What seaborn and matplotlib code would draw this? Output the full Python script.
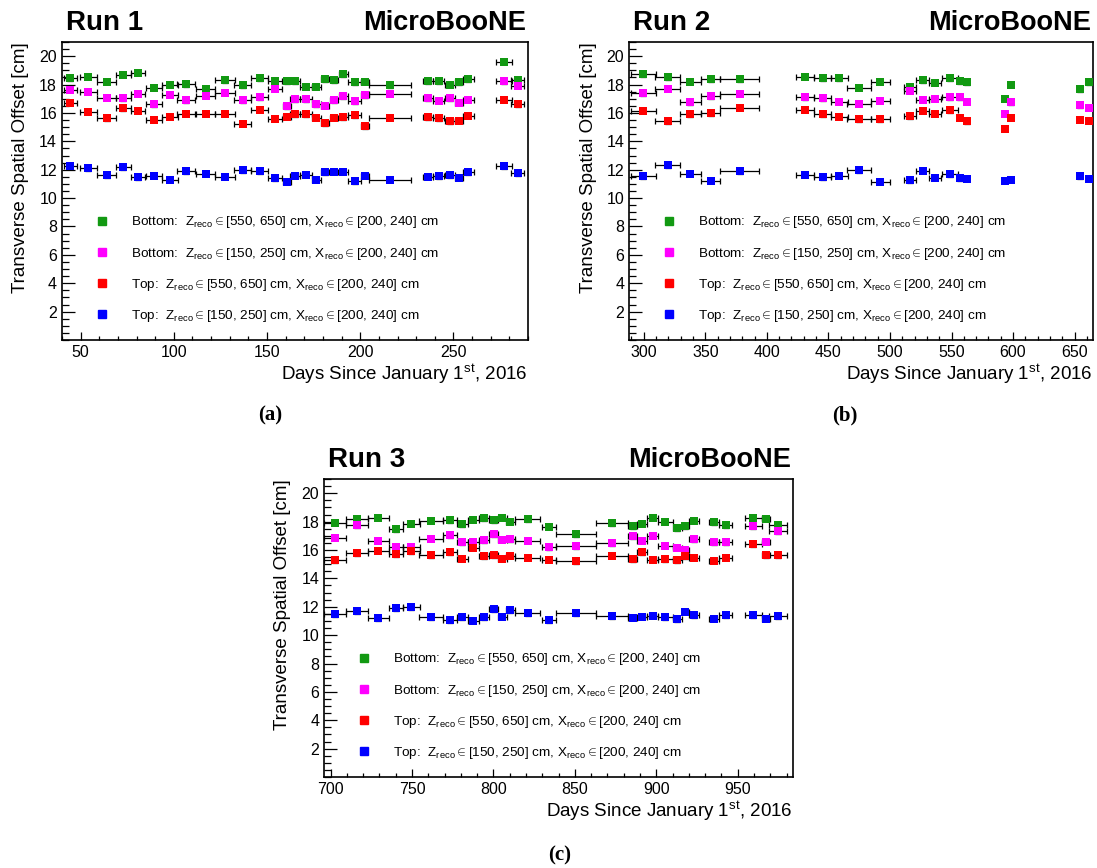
import matplotlib
matplotlib.use("Agg")
import matplotlib.pyplot as plt
from matplotlib.lines import Line2D
from matplotlib.ticker import MultipleLocator
import seaborn as sns

# ---- Run 1 ----
days_run1 = [44.5, 54, 64, 73, 81, 89.5, 98, 106.5, 117, 127.5, 137, 146, 154.5,
             160.5, 165, 171, 176.5, 181, 186, 191, 197, 202.5, 216, 236.5, 242,
             248, 253, 258, 277, 284.5]
xerr_run1 = [3.6, 4.6, 5.0, 3.9, 3.8, 4.3, 4.5, 4.8, 5.3, 5.2, 4.5, 4.5, 3.8,
             2.1, 2.5, 3.1, 2.5, 2.3, 2.3, 2.5, 3.6, 2.3, 11.2, 2.7, 2.7,
             2.7, 2.4, 2.8, 4.3, 3.6]
bot_far_run1 = [18.43, 18.54, 18.19, 18.69, 18.85, 17.79, 17.98, 18.03, 17.68, 18.29,
                17.96, 18.45, 18.22, 18.22, 18.24, 17.84, 17.84, 18.36, 18.31, 18.73,
                18.17, 18.19, 17.96, 18.24, 18.24, 18.0, 18.17, 18.36, 19.62, 18.29]
bot_near_run1 = [17.63, 17.49, 17.07, 17.02, 17.37, 16.60, 17.30, 16.90, 17.23, 17.42,
                 16.88, 17.09, 17.70, 16.48, 16.97, 16.97, 16.60, 16.50, 16.88, 17.18,
                 16.83, 17.25, 17.35, 17.04, 16.85, 17.02, 16.71, 16.92, 18.22, 17.93]
top_far_run1 = [16.71, 16.08, 15.63, 16.34, 16.15, 15.52, 15.75, 15.94, 15.96, 15.94,
                15.23, 16.24, 15.59, 15.75, 15.92, 15.92, 15.68, 15.28, 15.66, 15.70,
                15.85, 15.05, 15.68, 15.70, 15.63, 15.40, 15.45, 15.82, 16.92, 16.62]
top_near_run1 = [12.28, 12.09, 11.60, 12.16, 11.46, 11.57, 11.29, 11.90, 11.71, 11.50,
                 11.95, 11.90, 11.41, 11.15, 11.57, 11.64, 11.29, 11.83, 11.85, 11.85,
                 11.17, 11.57, 11.29, 11.50, 11.55, 11.62, 11.43, 11.81, 12.25, 11.76]

# ---- Run 2 ----
days_run2 = [299.5, 319.3, 337.9, 354.2, 378.0, 431.2, 445.2, 458.8, 474.5, 492.1,
             516.2, 526.7, 536.8, 548.4, 557.1, 562.2, 593.4, 598.5, 654.6, 661.6]
xerr_run2 = [10.2, 9.9, 8.7, 8.1, 16.0, 7.3, 7.0, 6.8, 9.8, 7.9,
             4.9, 5.4, 5.0, 6.5, 1.5, 1.5, 0.5, 0.5, 1.5, 1.5]
bot_far_run2 = [18.73, 18.52, 18.19, 18.36, 18.38, 18.54, 18.43, 18.45, 17.79, 18.19,
                17.84, 18.29, 18.12, 18.43, 18.22, 18.15, 17.00, 18.00, 17.68, 18.17]
bot_near_run2 = [17.39, 17.70, 16.76, 17.16, 17.37, 17.11, 17.04, 16.78, 16.64, 16.85,
                 17.56, 16.92, 17.00, 17.09, 17.09, 16.78, 15.94, 16.74, 16.53, 16.38]
top_far_run2 = [16.17, 15.42, 15.92, 15.99, 16.36, 16.22, 15.92, 15.73, 15.56, 15.54,
                15.77, 16.17, 15.96, 16.20, 15.68, 15.42, 14.88, 15.66, 15.52, 15.45]
top_near_run2 = [11.53, 12.32, 11.71, 11.22, 11.90, 11.64, 11.46, 11.57, 11.97, 11.15,
                 11.27, 11.92, 11.43, 11.69, 11.41, 11.36, 11.24, 11.29, 11.53, 11.36]

# ---- Run 3 ----
days_run3 = [702.9, 716.2, 729.3, 740.1, 749.6, 761.6, 773.3, 780.9, 787.6, 794.2,
             800.1, 805.5, 810.4, 821.0, 833.9, 850.9, 872.8, 885.5, 891.5, 897.8,
             905.6, 913.0, 917.9, 923.2, 935.5, 942.8, 959.6, 967.4, 975.0]
xerr_run3 = [6.7, 6.7, 6.3, 4.1, 5.1, 7.2, 4.4, 3.3, 3.3, 3.1,
             2.9, 2.6, 2.8, 7.8, 4.3, 12.3, 9.8, 2.7, 3.1, 3.4,
             4.6, 2.6, 2.0, 3.0, 3.3, 4.0, 5.3, 2.3, 5.5]
bot_far_run3 = [17.93, 18.19, 18.28, 17.48, 17.84, 18.07, 18.09, 17.81, 18.14, 18.24,
                18.09, 18.28, 17.98, 18.16, 17.65, 17.13, 17.88, 17.69, 17.86, 18.28,
                18.00, 17.53, 17.67, 18.05, 17.95, 17.74, 18.28, 18.19, 17.79]
bot_near_run3 = [16.87, 17.74, 16.64, 16.21, 16.21, 16.78, 17.06, 16.56, 16.56, 16.68,
                 17.13, 16.73, 16.75, 16.64, 16.19, 16.26, 16.47, 16.99, 16.66, 17.01,
                 16.31, 16.16, 16.02, 16.75, 16.56, 16.56, 17.69, 16.59, 17.34]
top_far_run3 = [15.29, 15.76, 15.95, 15.72, 15.91, 15.62, 15.84, 15.39, 16.16, 15.58,
                15.65, 15.39, 15.60, 15.46, 15.32, 15.20, 15.60, 15.34, 15.86, 15.32,
                15.34, 15.29, 15.58, 15.44, 15.25, 15.44, 16.42, 15.62, 15.62]
top_near_run3 = [11.48, 11.69, 11.18, 11.91, 11.95, 11.25, 11.06, 11.25, 11.01, 11.27,
                 11.81, 11.29, 11.76, 11.53, 11.06, 11.53, 11.32, 11.22, 11.29, 11.36,
                 11.25, 11.11, 11.65, 11.41, 11.15, 11.39, 11.39, 11.15, 11.34]

YERR = 0.18

labels = [
    r"Bottom:  Z$_\mathrm{reco}\in$[550, 650] cm, X$_\mathrm{reco}\in$[200, 240] cm",
    r"Bottom:  Z$_\mathrm{reco}\in$[150, 250] cm, X$_\mathrm{reco}\in$[200, 240] cm",
    r"Top:  Z$_\mathrm{reco}\in$[550, 650] cm, X$_\mathrm{reco}\in$[200, 240] cm",
    r"Top:  Z$_\mathrm{reco}\in$[150, 250] cm, X$_\mathrm{reco}\in$[200, 240] cm",
]
colors = ["#129912", "#ff00ff", "#ff0000", "#0000ff"]

sns.set_style("ticks")
plt.rcParams["font.family"] = ["Liberation Sans", "DejaVu Sans"]
plt.rcParams["mathtext.fontset"] = "custom"
plt.rcParams["mathtext.rm"] = "Liberation Sans"
plt.rcParams["mathtext.it"] = "Liberation Sans:italic"
plt.rcParams["mathtext.bf"] = "Liberation Sans:bold"
for key in ["text.color", "axes.labelcolor", "xtick.color", "ytick.color", "axes.edgecolor"]:
    plt.rcParams[key] = "black"

fig = plt.figure(figsize=(10.97, 8.68), dpi=100)

panels = [
    ("Run 1", "(a)", [0.0565, 0.6083, 0.4248, 0.3433], (40, 290), range(50, 251, 50),
     days_run1, xerr_run1, [bot_far_run1, bot_near_run1, top_far_run1, top_near_run1]),
    ("Run 2", "(b)", [0.5734, 0.6083, 0.4230, 0.3433], (288, 665), range(300, 651, 50),
     days_run2, xerr_run2, [bot_far_run2, bot_near_run2, top_far_run2, top_near_run2]),
    ("Run 3", "(c)", [0.2954, 0.1048, 0.4275, 0.3433], (696, 984), range(700, 951, 50),
     days_run3, xerr_run3, [bot_far_run3, bot_near_run3, top_far_run3, top_near_run3]),
]
caption_pos = {"(a)": (270, 415), "(b)": (845, 415), "(c)": (560, 855)}

for run, tag, rect, xlim, xt, days, xerr, series in panels:
    ax = fig.add_axes(rect)
    for vals, col in zip(series, colors):
        ax.errorbar(days, vals, xerr=xerr, yerr=YERR, fmt="none", ecolor="black",
                    elinewidth=0.9, capsize=2, capthick=0.9, zorder=2)
        sns.scatterplot(x=days, y=vals, ax=ax, color=col, marker="s", s=38,
                        linewidth=0, zorder=3)

    ax.set_xlim(*xlim)
    ax.set_ylim(0, 21)
    ax.set_xticks(list(xt))
    ax.set_yticks(range(2, 21, 2))
    ax.xaxis.set_minor_locator(MultipleLocator(10))
    ax.yaxis.set_minor_locator(MultipleLocator(0.5))
    ax.tick_params(axis="both", which="both", direction="in", labelsize=11.5)
    ax.tick_params(axis="y", which="major", length=9.5, width=0.9)
    ax.tick_params(axis="y", which="minor", length=4.8, width=0.9)
    ax.tick_params(axis="x", which="major", length=6, width=0.9)
    ax.tick_params(axis="x", which="minor", length=3, width=0.9)
    for sp in ax.spines.values():
        sp.set_linewidth(1.2)

    ax.set_ylabel("Transverse Spatial Offset [cm]", fontsize=13.5, loc="top")
    ax.yaxis.set_label_coords(-0.07, 1.0)
    ax.set_xlabel(r"Days Since January 1$^\mathrm{st}$, 2016", fontsize=13.5, loc="right")
    ax.xaxis.set_label_coords(1.0, -0.075)

    ax.text(0.009, 1.04, run, transform=ax.transAxes, ha="left", va="baseline",
            fontsize=20, fontweight="bold")
    ax.text(0.996, 1.04, "MicroBooNE", transform=ax.transAxes, ha="right",
            va="baseline", fontsize=19.5, fontweight="bold")

    handles = [Line2D([], [], marker="s", color=c, linestyle="none", markersize=5.5)
               for c in colors]
    ax.legend(handles, labels, loc="center left", bbox_to_anchor=(0.074, 0.238),
              frameon=False, fontsize=9.7, handlelength=0.8, handletextpad=1.75,
              labelspacing=1.12, borderpad=0, borderaxespad=0)

    cx, cy = caption_pos[tag]
    fig.text(cx / 1097, 1 - cy / 868, tag, ha="center", va="center",
             fontfamily="Liberation Serif", fontweight="bold", fontsize=15)

fig.savefig("out.png", dpi=100)
plt.close(fig)
